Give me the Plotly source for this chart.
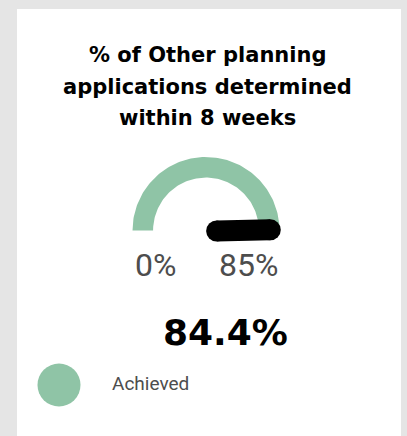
import numpy as np
import plotly.graph_objects as go

# ---- data ----
title_lines = ["% of Other planning", "applications determined", "within 8 weeks"]
gauge_min = [0]
gauge_max = [85]
achieved = [84.4]
series_names = ["Achieved"]
min_label = "0%"
max_label = "85%"
value_label = "84.4%"

# ---- style ----
W, H = 407, 436
CX, CY = 206, 230.5          # gauge centre in px
R_OUT = 73.5                 # outer radius px
HOLE = 0.72                  # inner / outer
GREEN = "#8fc4a6"
GREY_TXT = "#4d4d4d"

def px_to_x(px):
    return (px - CX) / R_OUT

def py_to_y(py):
    return (CY - py) / R_OUT

fig = go.Figure()

# arc of achieved value
vmin, vmax, val = gauge_min[0], gauge_max[0], achieved[0]
frac = (min(val, vmax) - vmin) / (vmax - vmin)
th_end = np.pi * (1 - frac)
th = np.linspace(np.pi, th_end, 120)
xo, yo = np.cos(th), np.sin(th)
xi, yi = HOLE * np.cos(th[::-1]), HOLE * np.sin(th[::-1])
fig.add_trace(go.Scatter(
    x=np.concatenate([xo, xi, xo[:1]]),
    y=np.concatenate([yo, yi, yo[:1]]),
    fill="toself", fillcolor=GREEN, mode="lines",
    line=dict(width=0, color=GREEN), hoverinfo="skip", showlegend=False))

# needle
n0, n1 = 0.145, 0.875
nx = [n0 * np.cos(th_end), n1 * np.cos(th_end)]
ny = [n0 * np.sin(th_end) - 0.01, n1 * np.sin(th_end) - 0.01]
fig.add_trace(go.Scatter(
    x=nx, y=ny, mode="lines+markers",
    line=dict(width=21, color="black"),
    marker=dict(size=21, color="black"),
    hoverinfo="skip", showlegend=False))

# card background
fig.add_shape(type="rect", xref="paper", yref="paper",
              x0=17 / W, x1=401 / W, y0=-0.1, y1=1 - 9 / H,
              fillcolor="white", line=dict(width=0), layer="below")

# title
for i, t in enumerate(title_lines):
    fig.add_annotation(text="<b>%s</b>" % t, xref="paper", yref="paper",
                       x=207 / W, y=1 - (55.5 + 31 * i) / H,
                       xanchor="center", yanchor="middle", showarrow=False,
                       font=dict(family="DejaVu Sans", size=21, color="black"))

# min / max labels
fig.add_annotation(text=min_label, x=-1, y=py_to_y(264.5), xanchor="left",
                   yanchor="middle", showarrow=False,
                   font=dict(family="Roboto", size=32, color=GREY_TXT))
fig.add_annotation(text=max_label, x=1, y=py_to_y(264.5), xanchor="right",
                   yanchor="middle", showarrow=False,
                   font=dict(family="Roboto", size=32, color=GREY_TXT))

# value
fig.add_annotation(text="<b>%s</b>" % value_label, xref="paper", yref="paper",
                   x=225.5 / W, y=1 - 332 / H, xanchor="center", yanchor="middle",
                   showarrow=False,
                   font=dict(family="DejaVu Sans", size=36, color="black"))

# legend
fig.add_shape(type="circle", xref="paper", yref="paper",
              x0=(59 - 21.5) / W, x1=(59 + 21.5) / W,
              y0=1 - (385 + 21.5) / H, y1=1 - (385 - 21.5) / H,
              fillcolor=GREEN, line=dict(width=0))
fig.add_annotation(text=series_names[0], xref="paper", yref="paper",
                   x=110 / W, y=1 - 383 / H, xanchor="left", yanchor="middle",
                   showarrow=False,
                   font=dict(family="Roboto", size=19, color=GREY_TXT))

fig.update_layout(
    width=W, height=H, margin=dict(l=0, r=0, t=0, b=0),
    paper_bgcolor="#e5e5e5", plot_bgcolor="rgba(0,0,0,0)",
    xaxis=dict(range=[px_to_x(0), px_to_x(W)], visible=False, fixedrange=True),
    yaxis=dict(range=[py_to_y(H), py_to_y(0)], visible=False, fixedrange=True),
    showlegend=False,
)

fig.write_html("out.html", config={"displayModeBar": False},
               post_script="document.body.style.margin='0';document.body.style.overflow='hidden';")
